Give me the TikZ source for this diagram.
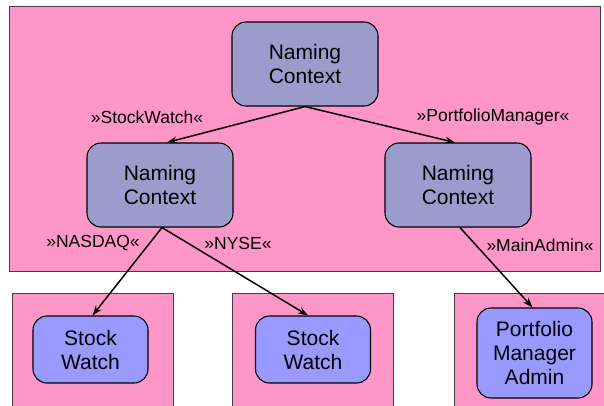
\documentclass[tikz,border=0pt]{standalone}
\usepackage{fontspec}
\setmainfont{Liberation Sans}
\usetikzlibrary{arrows.meta}
\definecolor{zonepink}{RGB}{255,150,200}
\definecolor{ctxblue}{RGB}{155,155,204}
\definecolor{objblue}{RGB}{153,153,255}
\definecolor{zoneedge}{RGB}{70,60,70}
\tikzset{
  zone/.style={draw=zoneedge, line width=0.9pt, fill=zonepink},
  ctxnode/.style={draw=black, line width=1.1pt, fill=ctxblue, rounded corners=14pt,
    minimum width=146pt, minimum height=84pt, align=center, inner sep=0pt,
    font=\fontsize{21}{24}\selectfont},
  objnode/.style={draw=black, line width=1.1pt, fill=objblue, rounded corners=14pt,
    minimum width=115pt, minimum height=67pt, align=center, inner sep=0pt,
    font=\fontsize{21}{24}\selectfont},
  bind/.style={-{Stealth[length=10pt,width=7pt]}, line width=1.5pt, black},
  bindlabel/.style={font=\fontsize{17.5}{19}\selectfont, inner sep=0pt}
}
\begin{document}
\begin{tikzpicture}[x=1pt,y=-1pt]
  \useasboundingbox (0,0) rectangle (604,405);
  \clip (0,0) rectangle (604,405);
  \fill[white] (0,0) rectangle (604,405);

  % naming server zone and the three application zones
  \draw[zone] (9.5,6.5) rectangle (600.5,271.5);
  \draw[zone] (12,293) rectangle (173,420);
  \draw[zone] (232,293) rectangle (393,420);
  \draw[zone] (454,293) rectangle (620,420);

  % naming contexts
  \node[ctxnode] (root) at (305,64) {Naming\\Context};
  \node[ctxnode] (sw) at (160,185) {Naming\\Context};
  \node[ctxnode] (pm) at (458,185) {Naming\\Context};

  % bound objects
  \node[objnode] (nasdaq) at (90.5,349.5) {Stock\\Watch};
  \node[objnode] (nyse) at (313,349.5) {Stock\\Watch};
  \node[objnode, minimum height=90pt] (admin) at (534.5,353) {Portfolio\\Manager\\Admin};

  % name bindings
  \draw[bind] (root.south) -- ([xshift=7pt]sw.north);
  \draw[bind] (root.south) -- ([xshift=-3pt]pm.north);
  \draw[bind] ([xshift=2pt]sw.south) -- ([xshift=2pt]nasdaq.north);
  \draw[bind] ([xshift=2pt]sw.south) -- ([xshift=-5pt]nyse.north);
  \draw[bind] ([xshift=2pt]pm.south) -- ([xshift=-2pt]admin.north);

  % binding names
  \node[bindlabel] (l1) at (147,117) {»StockWatch«};
  \node[bindlabel] (l2) at (493,117) {»PortfolioManager«};
  \node[bindlabel] (l3) at (93,243) {»NASDAQ«};
  \node[bindlabel] (l4) at (238,243) {»NYSE«};
  \node[bindlabel] (l5) at (540,245) {»MainAdmin«};
\end{tikzpicture}
\end{document}
